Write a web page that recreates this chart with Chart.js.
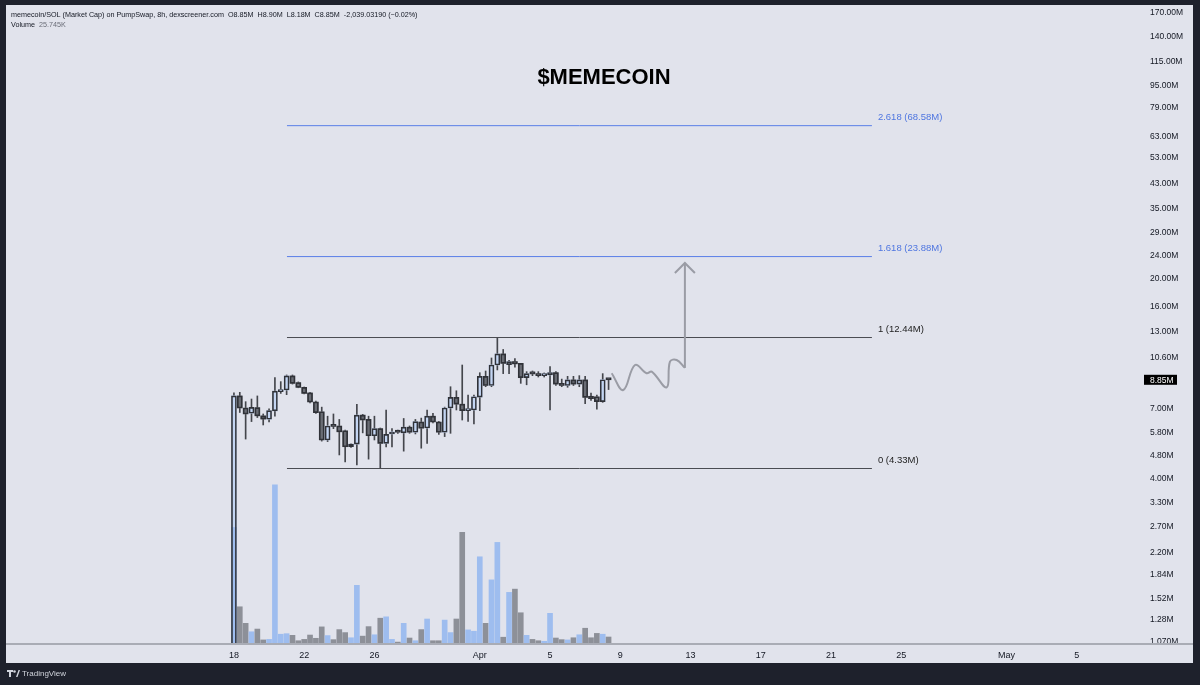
<!DOCTYPE html>
<html>
<head>
<meta charset="utf-8">
<title>$MEMECOIN</title>
<script src="https://cdn.jsdelivr.net/npm/chart.js@4.4.1/dist/chart.umd.min.js"></script>
<style>
  html, body { margin: 0; padding: 0; background: #1e212c; }
  #wrap { width: 1200px; height: 685px; }
</style>
</head>
<body>
<div id="wrap"><canvas id="chart" width="1200" height="685"></canvas></div>
<script>
// 8h candles, day 0 = Mar 18
var barHours = 8;
var opens  = [0.50, 7.77, 7.05, 6.76, 7.07, 6.62, 6.44, 6.89, 8.05, 8.15, 9.13, 8.65, 8.33, 7.96, 7.40, 6.84, 5.45, 6.10, 6.10, 5.87, 5.16, 5.27, 6.66, 6.43, 5.64, 5.97, 5.30, 5.72, 5.80, 5.77, 6.04, 5.80, 6.30, 6.00, 6.60, 6.30, 5.80, 7.05, 7.68, 7.27, 6.90, 6.94, 7.70, 9.10, 8.45, 9.97, 10.90, 10.00, 10.25, 10.10, 9.00, 9.30, 9.30, 9.15, 9.20, 9.37, 8.60, 8.45, 8.84, 8.55, 8.84, 7.75, 7.72, 7.42, 8.85];
var highs  = [7.96, 8.00, 7.42, 7.58, 7.77, 6.72, 7.00, 9.00, 8.72, 9.20, 9.20, 8.70, 8.35, 8.00, 7.45, 7.10, 6.60, 6.72, 6.43, 5.90, 5.28, 7.26, 6.70, 6.60, 6.60, 6.00, 6.94, 5.97, 5.90, 6.48, 6.10, 6.43, 6.50, 6.94, 6.75, 6.33, 7.10, 8.37, 8.10, 9.97, 7.83, 7.83, 9.37, 9.50, 10.55, 12.44, 11.30, 10.35, 10.50, 10.10, 9.45, 9.50, 9.45, 9.35, 9.85, 9.45, 8.90, 9.10, 9.10, 9.15, 9.10, 7.95, 7.83, 9.30, 8.90];
var lows   = [0.50, 6.80, 5.49, 6.32, 6.53, 6.15, 6.30, 6.60, 7.93, 7.85, 8.55, 8.30, 7.90, 7.35, 6.75, 5.40, 5.38, 5.97, 4.83, 4.57, 5.13, 4.46, 5.77, 4.67, 5.45, 4.33, 5.15, 5.15, 5.75, 4.98, 5.75, 5.72, 5.10, 5.30, 6.25, 5.70, 5.60, 5.75, 6.94, 6.40, 6.33, 6.20, 6.90, 8.37, 8.37, 9.58, 9.30, 9.30, 9.80, 8.60, 8.50, 9.15, 9.05, 9.05, 6.94, 8.45, 8.37, 8.33, 8.45, 8.37, 7.30, 7.50, 6.98, 7.38, 8.18];
var closes = [7.77, 7.05, 6.72, 7.09, 6.62, 6.45, 6.90, 8.08, 8.15, 9.13, 8.60, 8.33, 7.93, 7.40, 6.79, 5.45, 6.10, 6.08, 5.82, 5.16, 5.27, 6.66, 6.40, 5.64, 5.97, 5.30, 5.70, 5.80, 5.80, 6.04, 5.80, 6.32, 5.99, 6.60, 6.30, 5.80, 7.05, 7.68, 7.27, 6.90, 6.92, 7.72, 9.10, 8.45, 9.97, 10.90, 10.10, 10.25, 10.06, 9.00, 9.30, 9.28, 9.15, 9.30, 9.37, 8.55, 8.45, 8.84, 8.55, 8.84, 7.68, 7.60, 7.42, 8.852, 8.85];
var volumes = [429, 137, 76, 45, 55, 15, 17, 586, 36, 38, 32, 12, 17, 33, 21, 63, 31, 16, 53, 42, 23, 216, 29, 64, 34, 95, 100, 17, 7, 76, 22, 12, 53, 92, 12, 12, 88, 42, 92, 411, 52, 47, 321, 76, 236, 374, 25, 190, 202, 115, 32, 17, 12, 10, 113, 22, 16, 15, 23, 34, 58, 23, 39, 36, 25.745];

// time axis
var timeTickDays   = [0, 4, 8, 14, 18, 22, 26, 30, 34, 38, 44, 48];
var timeTickLabels = ['18', '22', '26', 'Apr', '5', '9', '13', '17', '21', '25', 'May', '5'];

// price axis
var priceTicks = [170, 140, 115, 95, 79, 63, 53, 43, 35, 29, 24, 20, 16, 13, 10.6, 7, 5.8, 4.8, 4.0, 3.3, 2.7, 2.2, 1.84, 1.52, 1.28, 1.07];
var priceTickLabels = ['170.00M', '140.00M', '115.00M', '95.00M', '79.00M', '63.00M', '53.00M', '43.00M', '35.00M', '29.00M', '24.00M', '20.00M', '16.00M', '13.00M', '10.60M', '7.00M', '5.80M', '4.80M', '4.00M', '3.30M', '2.70M', '2.20M', '1.84M', '1.52M', '1.28M', '1.070M'];

// fib drawing
var fibRatios = ['2.618', '1.618', '1', '0'];
var fibValues = [68.58, 23.88, 12.44, 4.33];
var fibStart = 3.02, fibEnd = 36.33;

// projected path (day, price)
var pathDays   = [21.51, 22.17, 22.84, 23.50, 23.79, 24.64, 24.83, 25.21, 25.68];
var pathPrices = [9.33, 8.15, 9.97, 9.33, 9.45, 8.33, 10.24, 10.38, 9.74];
var arrowDays   = [25.68, 25.68];
var arrowPrices = [9.74, 22.69];
var headDays   = [25.11, 25.68, 26.25];
var headPrices = [20.93, 22.69, 20.93];

var headerText = 'memecoin/SOL (Market Cap) on PumpSwap, 8h, dexscreener.com';
var changeText = '-2,039.03190 (\u22120.02%)';

var xMin = -12.98, xMax = 51.71;
var yMin = 1.053, yMax = 181.3;
var volMax = 2352;

var BG = '#1e212c', PANEL = '#e1e3ec';
var upFill = '#c3d5f3', downFill = '#6a6d75', edge = '#303238', wickCol = '#44464c';
var volUp = '#9ebdef', volDown = '#8d9098';

var times = opens.map(function (o, i) { return i * barHours / 24; });
var isUp = closes.map(function (c, i) { return c > opens[i]; });

function fmtM(v) { return v.toFixed(2) + 'M'; }

var bgPlugin = {
  id: 'bg',
  beforeDraw: function (chart) {
    var ctx = chart.ctx;
    ctx.save();
    ctx.fillStyle = BG;
    ctx.fillRect(0, 0, 1200, 685);
    ctx.fillStyle = PANEL;
    ctx.fillRect(6, 5, 1187, 658);
    ctx.restore();
  },
  afterDraw: function (chart) {
    var ctx = chart.ctx;
    var xs = chart.scales.x, ys = chart.scales.y;
    ctx.save();
    // pane / time axis separator
    ctx.strokeStyle = '#a9acb5';
    ctx.lineWidth = 2;
    ctx.beginPath();
    ctx.moveTo(6, chart.chartArea.bottom);
    ctx.lineTo(1193, chart.chartArea.bottom);
    ctx.stroke();

    // fib labels
    ctx.font = '9.5px "Liberation Sans", sans-serif';
    ctx.textBaseline = 'middle';
    ctx.textAlign = 'left';
    fibValues.forEach(function (v, i) {
      ctx.fillStyle = i < 2 ? '#4f76e0' : '#222';
      ctx.fillText(fibRatios[i] + ' (' + fmtM(v) + ')', xs.getPixelForValue(fibEnd) + 6, ys.getPixelForValue(v) - 8);
    });

    // header
    var last = closes.length - 1;
    ctx.fillStyle = '#131722';
    ctx.font = '7.2px "Liberation Sans", sans-serif';
    var line1 = headerText + '  O' + fmtM(opens[last]) + '  H' + fmtM(highs[last]) + '  L' + fmtM(lows[last]) + '  C' + fmtM(closes[last]) + '  ' + changeText;
    ctx.fillText(line1, 11, 15.5);
    ctx.fillText('Volume', 11, 25.5);
    ctx.fillStyle = '#6a6d78';
    ctx.fillText(volumes[last].toFixed(3) + 'K', 11 + ctx.measureText('Volume  ').width, 25.5);

    // title
    ctx.fillStyle = '#000';
    ctx.font = 'bold 22px "Liberation Sans", sans-serif';
    ctx.textAlign = 'center';
    ctx.fillText('$MEMECOIN', 604, 78);

    // last price box
    var py = ys.getPixelForValue(closes[last]);
    ctx.fillStyle = '#000';
    ctx.fillRect(1144, py - 5, 33, 10);
    ctx.fillStyle = '#fff';
    ctx.font = '8.5px "Liberation Sans", sans-serif';
    ctx.textAlign = 'left';
    ctx.fillText(fmtM(closes[last]), 1150, py + 0.5);

    // footer
    ctx.fillStyle = '#d1d4dc';
    ctx.fillRect(7, 670, 6, 2);
    ctx.fillRect(9, 670, 2, 7);
    ctx.beginPath();
    ctx.arc(14.5, 671.5, 1.3, 0, Math.PI * 2);
    ctx.fill();
    ctx.beginPath();
    ctx.moveTo(16, 677); ctx.lineTo(18.5, 670); ctx.lineTo(20, 670); ctx.lineTo(17.5, 677);
    ctx.closePath();
    ctx.fill();
    ctx.font = '8px "Liberation Sans", sans-serif';
    ctx.fillText('TradingView', 22, 674);
    ctx.restore();
  }
};

var datasets = [];

datasets.push({
  type: 'bar', label: 'Wicks', yAxisID: 'y', order: 5, grouped: false,
  data: times.map(function (t, i) { return { x: t, y: [lows[i], highs[i]] }; }),
  backgroundColor: wickCol, barThickness: 1, borderWidth: 0, minBarLength: 1
});

datasets.push({
  type: 'bar', label: 'Bodies', yAxisID: 'y', order: 4, grouped: false,
  data: times.map(function (t, i) { return { x: t, y: [opens[i], closes[i]] }; }),
  backgroundColor: isUp.map(function (u) { return u ? upFill : downFill; }),
  borderWidth: 0, barThickness: 5, minBarLength: 2
});

// volume drawn over the body fills
datasets.push({
  type: 'bar', label: 'Volume', yAxisID: 'yv', order: 3, grouped: false,
  data: times.map(function (t, i) { return { x: t, y: volumes[i] }; }),
  backgroundColor: isUp.map(function (u) { return u ? volUp : volDown; }),
  barThickness: 5, borderWidth: 0
});

// body outlines on top
datasets.push({
  type: 'bar', label: 'Outlines', yAxisID: 'y', order: 2, grouped: false,
  data: times.map(function (t, i) { return { x: t, y: [opens[i], closes[i]] }; }),
  backgroundColor: 'rgba(0,0,0,0)',
  borderColor: edge, borderWidth: 1, borderSkipped: false,
  barThickness: 5, minBarLength: 2
});

fibValues.forEach(function (v, i) {
  datasets.push({
    type: 'line', label: 'fib ' + fibRatios[i], yAxisID: 'y', order: 1,
    data: [{ x: fibStart, y: v }, { x: fibEnd, y: v }],
    borderColor: i < 2 ? '#5a7fe8' : '#4a4c52', borderWidth: 1, pointRadius: 0
  });
});

datasets.push({
  type: 'line', label: 'path', yAxisID: 'y', order: 0,
  data: pathDays.map(function (d, i) { return { x: d, y: pathPrices[i] }; }),
  borderColor: '#9a9ca5', borderWidth: 2, pointRadius: 0, tension: 0.4
});
datasets.push({
  type: 'line', label: 'arrow', yAxisID: 'y', order: 0,
  data: arrowDays.map(function (d, i) { return { x: d, y: arrowPrices[i] }; }),
  borderColor: '#9a9ca5', borderWidth: 2, pointRadius: 0, tension: 0
});
datasets.push({
  type: 'line', label: 'head', yAxisID: 'y', order: 0,
  data: headDays.map(function (d, i) { return { x: d, y: headPrices[i] }; }),
  borderColor: '#9a9ca5', borderWidth: 2, pointRadius: 0, tension: 0
});

var axisFont = { family: '"Liberation Sans", sans-serif', size: 8.5 };

new Chart(document.getElementById('chart').getContext('2d'), {
  type: 'bar',
  data: { datasets: datasets },
  options: {
    responsive: false,
    animation: false,
    events: [],
    layout: { padding: { left: 6, top: 5, right: 7, bottom: 22 } },
    plugins: { legend: { display: false }, tooltip: { enabled: false } },
    scales: {
      x: {
        type: 'linear', min: xMin, max: xMax, offset: false,
        grid: { display: false, drawTicks: false }, border: { display: false },
        afterBuildTicks: function (s) { s.ticks = timeTickDays.map(function (v) { return { value: v }; }); },
        afterFit: function (s) { s.height = 19; s.paddingLeft = 0; s.paddingRight = 0; },
        ticks: {
          autoSkip: false, maxRotation: 0, padding: 6, color: '#131722', font: { family: axisFont.family, size: 9 },
          callback: function (v, i) { return timeTickLabels[i]; }
        }
      },
      y: {
        type: 'logarithmic', position: 'right', min: yMin, max: yMax,
        grid: { display: false, drawTicks: false }, border: { display: false },
        afterBuildTicks: function (s) { s.ticks = priceTicks.map(function (v) { return { value: v }; }); },
        afterFit: function (s) { s.width = 51; s.paddingTop = 0; s.paddingBottom = 0; },
        ticks: {
          autoSkip: false, padding: 8, color: '#131722', font: axisFont,
          callback: function (v, i) { return priceTickLabels[i]; }
        }
      },
      yv: { type: 'linear', display: false, min: 0, max: volMax }
    }
  },
  plugins: [bgPlugin]
});
</script>
</body>
</html>
